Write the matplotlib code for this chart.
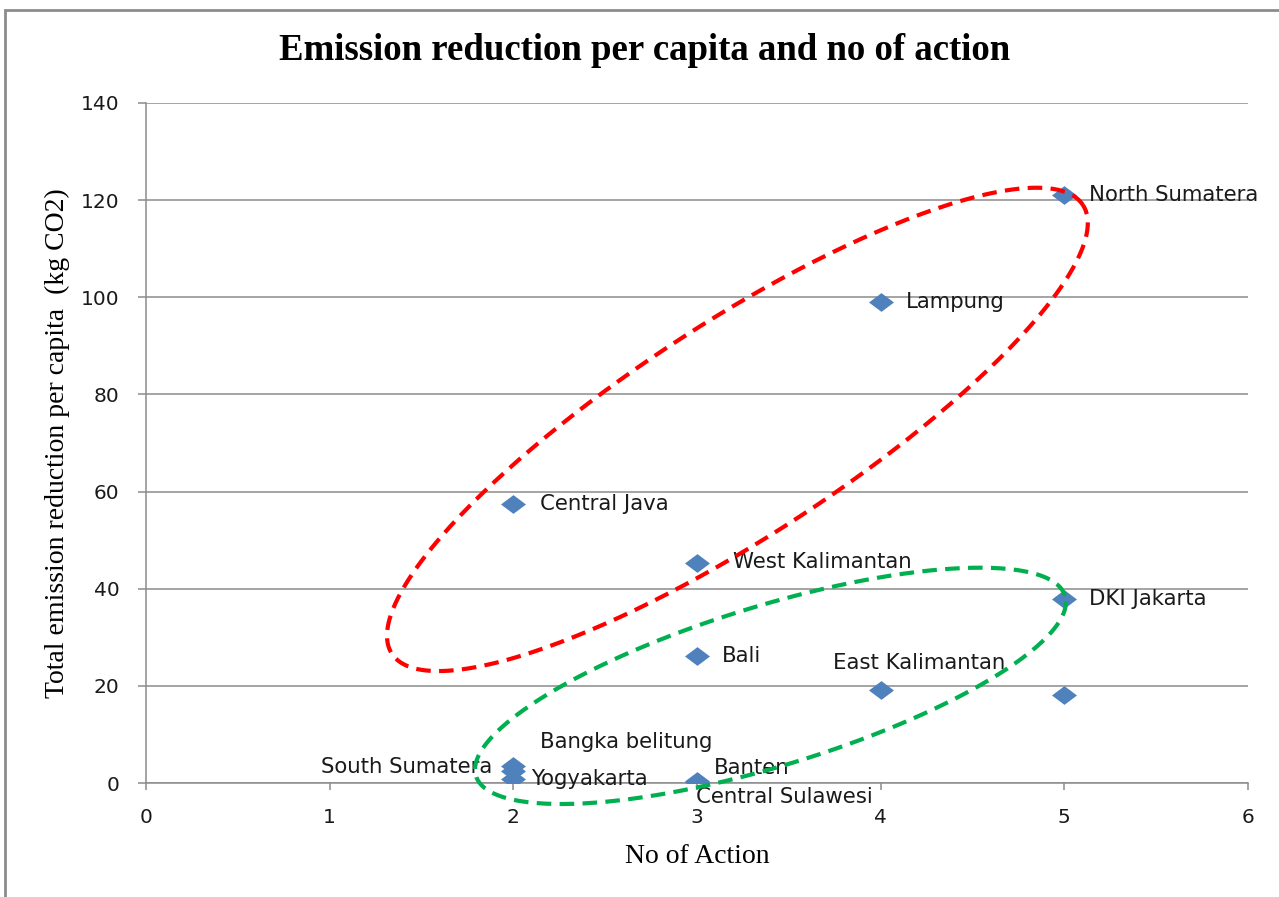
import numpy as np
import matplotlib
matplotlib.use('Agg')
import matplotlib.pyplot as plt
from matplotlib.path import Path
from matplotlib.patches import Rectangle

# data
provinces = ['North Sumatera', 'Lampung', 'Central Java', 'West Kalimantan', 'DKI Jakarta',
             'Bali', 'East Kalimantan', '', 'Bangka belitung', 'South Sumatera',
             'Yogyakarta', 'Banten', 'Central Sulawesi']
no_of_action = [5, 4, 2, 3, 5, 3, 4, 5, 2, 2, 2, 3, 3]
reduction_per_capita = [121, 99, 57.5, 45.2, 37.8, 26.2, 19.2, 18.2, 3.6, 2.4, 0.8, 0.5, 0.3]

x_ticks = [0, 1, 2, 3, 4, 5, 6]
y_ticks = [0, 20, 40, 60, 80, 100, 120, 140]

# label offsets (points) relative to each marker, with horizontal alignment
label_offsets = {
    'North Sumatera': (18, 0, 'left'),
    'Lampung': (18, 0, 'left'),
    'Central Java': (19, 0, 'left'),
    'West Kalimantan': (26, 1, 'left'),
    'DKI Jakarta': (18, 0, 'left'),
    'Bali': (18, 0, 'left'),
    'East Kalimantan': (-34, 19, 'left'),
    'Bangka belitung': (19, 17, 'left'),
    'South Sumatera': (-15, 3, 'right'),
    'Yogyakarta': (13, 0, 'left'),
    'Banten': (12, 9, 'left'),
    'Central Sulawesi': (-1, -11, 'left'),
}

# grouping ellipses: centre in data units, semi-axes in pixels, tilt in degrees
groups = [
    dict(center=(3.22, 72.8), a=412, b=107, angle=33, color='#FF0000'),
    dict(center=(3.40, 20.0), a=308, b=80, angle=17, color='#00B050'),
]

W, H = 1279, 897
fig = plt.figure(figsize=(W / 100, H / 100), dpi=100)
fig.patches.append(Rectangle((5 / W, -0.1), 1.2, 1.1 - 10 / H + 0.0001, transform=fig.transFigure,
                             fill=False, edgecolor='#8C8C8C', linewidth=2, zorder=0))
ax = fig.add_axes([146 / W, 1 - 783 / H, 1102 / W, 680 / H])

ax.set_xlim(0, 6)
ax.set_ylim(0, 140)
ax.set_xticks(x_ticks)
ax.set_yticks(y_ticks)
ax.grid(axis='y', color='#8C8C8C', linewidth=1.1)
ax.set_axisbelow(True)
for s in ['top', 'right']:
    ax.spines[s].set_visible(False)
for s in ['left', 'bottom']:
    ax.spines[s].set_color('#8C8C8C')
    ax.spines[s].set_linewidth(1.1)

sans = 'DejaVu Sans'
serif = 'Liberation Serif'
ax.tick_params(axis='both', colors='#8C8C8C', labelcolor='#1A1A1A', labelsize=14.5, width=1.1)
ax.tick_params(axis='y', length=6, pad=13)
ax.tick_params(axis='x', length=5, pad=13)
for lab in ax.get_xticklabels() + ax.get_yticklabels():
    lab.set_family(sans)

# diamond marker, a little wider than tall
diamond = Path([(-1, 0), (0, 0.75), (1, 0), (0, -0.75), (-1, 0)],
               [Path.MOVETO, Path.LINETO, Path.LINETO, Path.LINETO, Path.CLOSEPOLY])
ax.plot(no_of_action, reduction_per_capita, linestyle='none', marker=diamond,
        markersize=18, color='#4F81BD', markeredgewidth=0, zorder=3)

for name, xv, yv in zip(provinces, no_of_action, reduction_per_capita):
    if not name:
        continue
    dx, dy, ha = label_offsets[name]
    ax.annotate(name, (xv, yv), xytext=(dx, dy), textcoords='offset points',
                ha=ha, va='center', fontsize=15.3, family=sans, color='#1A1A1A', zorder=4)

# ellipses drawn in pixel space so they stay round regardless of axis scales
t = np.linspace(0, 2 * np.pi, 400)
for g in groups:
    cx, cy = ax.transData.transform(g['center'])
    th = np.deg2rad(g['angle'])
    px = cx + g['a'] * np.cos(t) * np.cos(th) - g['b'] * np.sin(t) * np.sin(th)
    py = cy + g['a'] * np.cos(t) * np.sin(th) + g['b'] * np.sin(t) * np.cos(th)
    pts = ax.transData.inverted().transform(np.column_stack([px, py]))
    ax.plot(pts[:, 0], pts[:, 1], color=g['color'], linewidth=3,
            linestyle=(0, (3.5, 2)), zorder=5, clip_on=False)

ax.set_xlabel('No of Action', family=serif, fontsize=20, labelpad=12)
ax.set_ylabel('Total emission reduction per capita  (kg CO2)', family=serif, fontsize=20, labelpad=8)
fig.text(645 / W, 1 - 50 / H, 'Emission reduction per capita and no of action',
         family=serif, fontsize=26.5, fontweight='bold', ha='center', va='center')

fig.savefig('out.png', dpi=100)
